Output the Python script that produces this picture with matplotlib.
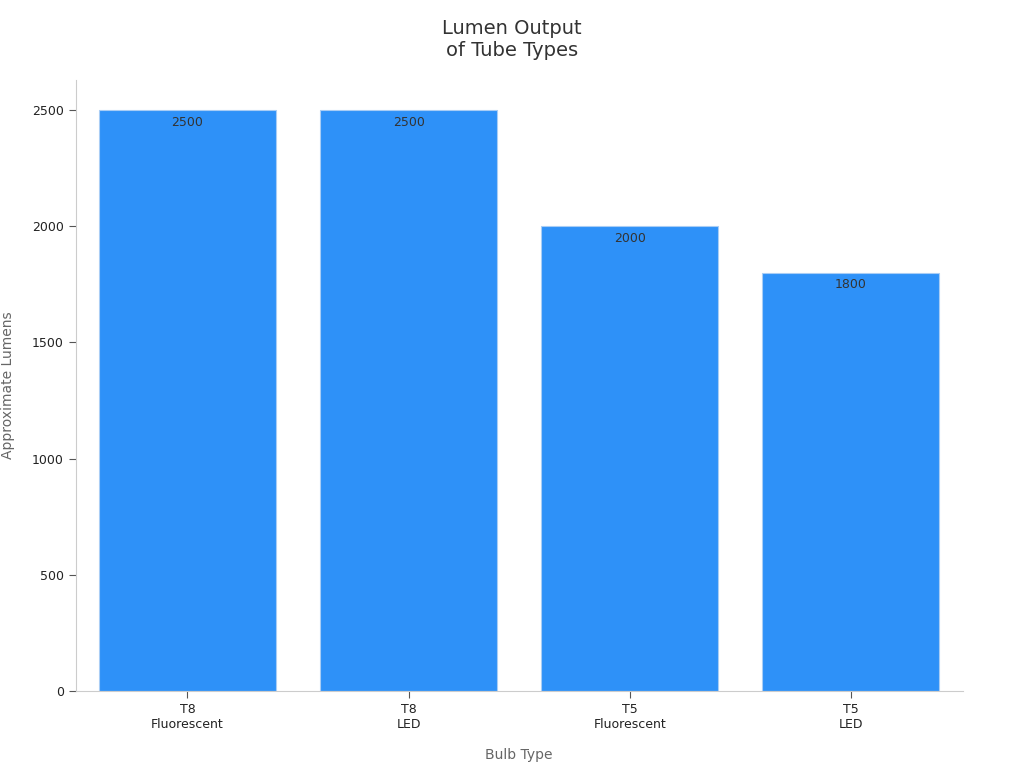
import matplotlib
matplotlib.use("Agg")
import matplotlib.pyplot as plt

categories = ["T8\nFluorescent", "T8\nLED", "T5\nFluorescent", "T5\nLED"]
lumens = [2500, 2500, 2000, 1800]

fig = plt.figure(figsize=(10.24, 7.68), dpi=100)
ax = fig.add_axes([0.074, 0.100, 0.866, 0.796])
x = range(len(categories))
bars = ax.bar(x, lumens, width=0.8, color="#2E91F8", edgecolor="#A9CDF5", linewidth=0.8)
for xi, v in zip(x, lumens):
    ax.text(xi, v - 25, str(v), ha="center", va="top", fontsize=9, color="#333333")
ax.set_xlim(-0.505, 3.505)
ax.set_ylim(0, 2629)
ax.set_xticks(list(x))
ax.set_xticklabels(categories, fontsize=9, color="#222222")
ax.set_yticks([0, 500, 1000, 1500, 2000, 2500])
ax.tick_params(axis="y", labelsize=9, colors="#222222")
ax.tick_params(axis="both", color="#555555", length=5)
for s in ["top", "right"]:
    ax.spines[s].set_visible(False)
for s in ["left", "bottom"]:
    ax.spines[s].set_color("#CCCCCC")
ax.set_xlabel("Bulb Type", fontsize=10, color="#666666", labelpad=12)
ax.set_ylabel("Approximate Lumens", fontsize=10, color="#666666", labelpad=12)
fig.suptitle("Lumen Output\nof Tube Types", fontsize=14, color="#333333", y=0.975)
fig.savefig("out.png", dpi=100)
